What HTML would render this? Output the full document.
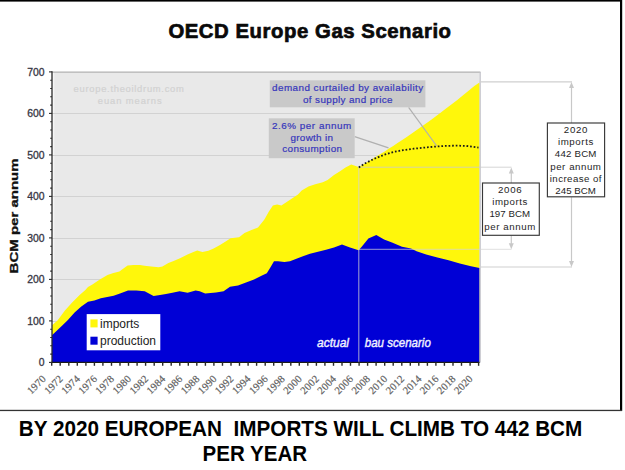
<!DOCTYPE html>
<html><head><meta charset="utf-8"><style>
html,body{margin:0;padding:0;background:#fff;}
body{width:625px;height:470px;overflow:hidden;position:relative;font-family:"Liberation Sans",sans-serif;}
svg{position:absolute;left:0;top:0;}
</style></head><body>
<svg width="625" height="470" viewBox="0 0 625 470" font-family="Liberation Sans, sans-serif" style="white-space:pre">
<rect x="52" y="72" width="428.5" height="290.4" fill="#f6f6f6"/>
<rect x="54.2" y="72" width="426.3" height="290.4" fill="#e9e9e9"/>
<line x1="52" y1="321.5" x2="479.5" y2="321.5" stroke="#d2d2d2" stroke-width="1"/>
<line x1="52" y1="279.5" x2="479.5" y2="279.5" stroke="#d2d2d2" stroke-width="1"/>
<line x1="52" y1="238.5" x2="479.5" y2="238.5" stroke="#d2d2d2" stroke-width="1"/>
<line x1="52" y1="196.5" x2="479.5" y2="196.5" stroke="#d2d2d2" stroke-width="1"/>
<line x1="52" y1="155.5" x2="479.5" y2="155.5" stroke="#d2d2d2" stroke-width="1"/>
<line x1="52" y1="113.5" x2="479.5" y2="113.5" stroke="#d2d2d2" stroke-width="1"/>
<text x="73.6" y="91.6" font-size="9.4" fill="#d0d0d0" text-anchor="start" textLength="110.2" lengthAdjust="spacing" stroke="#d4d4d4" stroke-width="0.2">europe.theoildrum.com</text>
<text x="97.8" y="103.6" font-size="9.4" fill="#d0d0d0" text-anchor="start" textLength="63.8" lengthAdjust="spacing" stroke="#d4d4d4" stroke-width="0.2">euan mearns</text>
<path d="M52.0,362.4 L52.0,325.2 L57.5,320.6 L64.9,310.4 L72.4,302.2 L79.9,294.7 L85.1,290.2 L88.0,286.9 L92.4,284.6 L99.8,279.4 L107.5,275.1 L113.4,272.9 L119.4,271.6 L122.4,269.2 L127.6,265.4 L133.6,265.1 L140.0,265.1 L144.5,265.7 L151.2,266.5 L158.7,267.2 L162.4,266.5 L168.4,263.1 L173.6,260.9 L180.0,258.2 L187.5,254.5 L193.4,251.9 L197.2,250.4 L202.4,251.9 L208.4,250.7 L213.6,248.5 L220.0,245.0 L226.4,241.0 L230.6,238.3 L239.1,237.2 L244.5,233.0 L250.9,230.3 L256.2,228.2 L258.0,227.5 L264.4,219.4 L268.6,211.9 L272.9,205.5 L277.1,204.5 L281.4,205.5 L287.8,201.3 L294.2,197.0 L298.0,194.4 L301.7,190.4 L308.5,186.6 L315.2,184.2 L322.8,182.3 L327.6,179.9 L334.0,174.9 L340.4,171.0 L345.5,167.4 L351.2,164.6 L358.6,167.0 L363.3,164.5 L367.6,161.9 L371.9,159.3 L376.1,156.7 L380.4,154.1 L384.7,151.4 L389.0,148.6 L393.2,145.9 L397.5,143.1 L401.8,140.2 L406.0,137.4 L410.3,134.5 L414.6,131.5 L418.8,128.5 L423.1,125.5 L427.4,122.5 L431.6,119.4 L435.9,116.2 L440.2,113.0 L444.4,109.8 L448.7,106.6 L453.0,103.3 L457.3,99.9 L461.5,96.5 L465.8,93.1 L470.1,89.6 L474.3,86.1 L479.5,82.5 L479.5,362.4 Z" fill="#fff70b"/>
<path d="M52.0,362.4 L52.0,335.3 L57.5,330.0 L62.8,325.0 L67.9,320.0 L74.6,312.6 L81.3,306.6 L88.0,301.8 L94.4,300.5 L100.8,298.3 L107.2,297.0 L113.6,295.7 L120.0,293.5 L128.0,290.4 L136.3,290.6 L144.7,291.2 L153.6,296.0 L160.0,295.1 L166.0,294.0 L172.4,292.8 L179.6,291.2 L187.6,292.8 L195.6,290.4 L199.6,291.2 L205.2,293.6 L216.0,292.4 L223.6,291.2 L230.0,286.8 L238.0,285.6 L246.0,282.4 L254.0,279.6 L262.0,275.6 L266.8,273.2 L270.8,266.8 L274.0,261.2 L278.0,261.2 L284.4,262.0 L290.0,261.2 L296.4,258.8 L303.6,256.0 L310.0,253.8 L318.0,251.8 L326.0,249.8 L334.0,247.4 L342.0,244.6 L350.0,247.4 L358.6,250.2 L361.7,246.8 L368.4,238.4 L376.3,234.9 L384.1,239.6 L392.0,242.4 L402.0,246.8 L411.0,248.5 L416.6,251.3 L426.2,254.6 L437.4,257.4 L448.6,260.2 L459.8,263.5 L471.0,266.3 L479.5,268.0 L479.5,362.4 Z" fill="#0000d6"/>
<line x1="52" y1="72.1" x2="480.5" y2="72.1" stroke="#b2b2b2" stroke-width="1.4"/>
<line x1="480.2" y1="72" x2="480.2" y2="362.4" stroke="#c4c4cc" stroke-width="1.2"/>
<line x1="358.8" y1="167" x2="358.8" y2="362.4" stroke="#d4d4d4" stroke-opacity="0.72" stroke-width="1.1"/>
<line x1="358.8" y1="167.2" x2="511.5" y2="167.2" stroke="#cccccc" stroke-opacity="0.8" stroke-width="1"/>
<line x1="358.8" y1="249.3" x2="511.5" y2="249.3" stroke="#d4d4d4" stroke-opacity="0.72" stroke-width="1"/>
<line x1="479.5" y1="81.8" x2="572" y2="81.8" stroke="#cfcfcf" stroke-width="1.2"/>
<line x1="479.5" y1="267" x2="572" y2="267" stroke="#cfcfcf" stroke-width="1.2"/>
<path d="M358.8,167.4 L364.6,163.6 L374.2,158.8 L383.8,154.9 L393.5,152.0 L403.1,150.1 L413.7,148.7 L430.6,147.0 L443.4,146.0 L456.2,145.6 L466.5,146.0 L478.5,147.6" fill="none" stroke="#1a1a1a" stroke-width="1.8" stroke-dasharray="1.7,1.9"/>
<line x1="52" y1="71.2" x2="52" y2="363.0" stroke="#2a2a2a" stroke-width="1.3"/>
<line x1="51.4" y1="362.4" x2="479.5" y2="362.4" stroke="#1a1a1a" stroke-width="1.2"/>
<line x1="49" y1="362.4" x2="52" y2="362.4" stroke="#2a2a2a" stroke-width="1.1"/>
<line x1="50.2" y1="354.1" x2="52" y2="354.1" stroke="#2a2a2a" stroke-width="1.1"/>
<line x1="50.2" y1="345.8" x2="52" y2="345.8" stroke="#2a2a2a" stroke-width="1.1"/>
<line x1="50.2" y1="337.5" x2="52" y2="337.5" stroke="#2a2a2a" stroke-width="1.1"/>
<line x1="50.2" y1="329.2" x2="52" y2="329.2" stroke="#2a2a2a" stroke-width="1.1"/>
<line x1="49" y1="320.9" x2="52" y2="320.9" stroke="#2a2a2a" stroke-width="1.1"/>
<line x1="50.2" y1="312.6" x2="52" y2="312.6" stroke="#2a2a2a" stroke-width="1.1"/>
<line x1="50.2" y1="304.3" x2="52" y2="304.3" stroke="#2a2a2a" stroke-width="1.1"/>
<line x1="50.2" y1="296.0" x2="52" y2="296.0" stroke="#2a2a2a" stroke-width="1.1"/>
<line x1="50.2" y1="287.7" x2="52" y2="287.7" stroke="#2a2a2a" stroke-width="1.1"/>
<line x1="49" y1="279.4" x2="52" y2="279.4" stroke="#2a2a2a" stroke-width="1.1"/>
<line x1="50.2" y1="271.1" x2="52" y2="271.1" stroke="#2a2a2a" stroke-width="1.1"/>
<line x1="50.2" y1="262.8" x2="52" y2="262.8" stroke="#2a2a2a" stroke-width="1.1"/>
<line x1="50.2" y1="254.5" x2="52" y2="254.5" stroke="#2a2a2a" stroke-width="1.1"/>
<line x1="50.2" y1="246.2" x2="52" y2="246.2" stroke="#2a2a2a" stroke-width="1.1"/>
<line x1="49" y1="237.9" x2="52" y2="237.9" stroke="#2a2a2a" stroke-width="1.1"/>
<line x1="50.2" y1="229.6" x2="52" y2="229.6" stroke="#2a2a2a" stroke-width="1.1"/>
<line x1="50.2" y1="221.3" x2="52" y2="221.3" stroke="#2a2a2a" stroke-width="1.1"/>
<line x1="50.2" y1="213.0" x2="52" y2="213.0" stroke="#2a2a2a" stroke-width="1.1"/>
<line x1="50.2" y1="204.7" x2="52" y2="204.7" stroke="#2a2a2a" stroke-width="1.1"/>
<line x1="49" y1="196.4" x2="52" y2="196.4" stroke="#2a2a2a" stroke-width="1.1"/>
<line x1="50.2" y1="188.1" x2="52" y2="188.1" stroke="#2a2a2a" stroke-width="1.1"/>
<line x1="50.2" y1="179.8" x2="52" y2="179.8" stroke="#2a2a2a" stroke-width="1.1"/>
<line x1="50.2" y1="171.5" x2="52" y2="171.5" stroke="#2a2a2a" stroke-width="1.1"/>
<line x1="50.2" y1="163.2" x2="52" y2="163.2" stroke="#2a2a2a" stroke-width="1.1"/>
<line x1="49" y1="154.9" x2="52" y2="154.9" stroke="#2a2a2a" stroke-width="1.1"/>
<line x1="50.2" y1="146.6" x2="52" y2="146.6" stroke="#2a2a2a" stroke-width="1.1"/>
<line x1="50.2" y1="138.3" x2="52" y2="138.3" stroke="#2a2a2a" stroke-width="1.1"/>
<line x1="50.2" y1="130.0" x2="52" y2="130.0" stroke="#2a2a2a" stroke-width="1.1"/>
<line x1="50.2" y1="121.7" x2="52" y2="121.7" stroke="#2a2a2a" stroke-width="1.1"/>
<line x1="49" y1="113.4" x2="52" y2="113.4" stroke="#2a2a2a" stroke-width="1.1"/>
<line x1="50.2" y1="105.1" x2="52" y2="105.1" stroke="#2a2a2a" stroke-width="1.1"/>
<line x1="50.2" y1="96.8" x2="52" y2="96.8" stroke="#2a2a2a" stroke-width="1.1"/>
<line x1="50.2" y1="88.5" x2="52" y2="88.5" stroke="#2a2a2a" stroke-width="1.1"/>
<line x1="50.2" y1="80.2" x2="52" y2="80.2" stroke="#2a2a2a" stroke-width="1.1"/>
<line x1="49" y1="71.9" x2="52" y2="71.9" stroke="#2a2a2a" stroke-width="1.1"/>
<line x1="51.7" y1="362.4" x2="51.7" y2="365.79999999999995" stroke="#2a2a2a" stroke-width="1.4"/>
<line x1="60.2" y1="362.4" x2="60.2" y2="365.79999999999995" stroke="#2a2a2a" stroke-width="1.4"/>
<line x1="68.8" y1="362.4" x2="68.8" y2="365.79999999999995" stroke="#2a2a2a" stroke-width="1.4"/>
<line x1="77.3" y1="362.4" x2="77.3" y2="365.79999999999995" stroke="#2a2a2a" stroke-width="1.4"/>
<line x1="85.9" y1="362.4" x2="85.9" y2="365.79999999999995" stroke="#2a2a2a" stroke-width="1.4"/>
<line x1="94.4" y1="362.4" x2="94.4" y2="365.79999999999995" stroke="#2a2a2a" stroke-width="1.4"/>
<line x1="102.9" y1="362.4" x2="102.9" y2="365.79999999999995" stroke="#2a2a2a" stroke-width="1.4"/>
<line x1="111.5" y1="362.4" x2="111.5" y2="365.79999999999995" stroke="#2a2a2a" stroke-width="1.4"/>
<line x1="120.0" y1="362.4" x2="120.0" y2="365.79999999999995" stroke="#2a2a2a" stroke-width="1.4"/>
<line x1="128.5" y1="362.4" x2="128.5" y2="365.79999999999995" stroke="#2a2a2a" stroke-width="1.4"/>
<line x1="137.1" y1="362.4" x2="137.1" y2="365.79999999999995" stroke="#2a2a2a" stroke-width="1.4"/>
<line x1="145.6" y1="362.4" x2="145.6" y2="365.79999999999995" stroke="#2a2a2a" stroke-width="1.4"/>
<line x1="154.2" y1="362.4" x2="154.2" y2="365.79999999999995" stroke="#2a2a2a" stroke-width="1.4"/>
<line x1="162.7" y1="362.4" x2="162.7" y2="365.79999999999995" stroke="#2a2a2a" stroke-width="1.4"/>
<line x1="171.2" y1="362.4" x2="171.2" y2="365.79999999999995" stroke="#2a2a2a" stroke-width="1.4"/>
<line x1="179.8" y1="362.4" x2="179.8" y2="365.79999999999995" stroke="#2a2a2a" stroke-width="1.4"/>
<line x1="188.3" y1="362.4" x2="188.3" y2="365.79999999999995" stroke="#2a2a2a" stroke-width="1.4"/>
<line x1="196.8" y1="362.4" x2="196.8" y2="365.79999999999995" stroke="#2a2a2a" stroke-width="1.4"/>
<line x1="205.4" y1="362.4" x2="205.4" y2="365.79999999999995" stroke="#2a2a2a" stroke-width="1.4"/>
<line x1="213.9" y1="362.4" x2="213.9" y2="365.79999999999995" stroke="#2a2a2a" stroke-width="1.4"/>
<line x1="222.5" y1="362.4" x2="222.5" y2="365.79999999999995" stroke="#2a2a2a" stroke-width="1.4"/>
<line x1="231.0" y1="362.4" x2="231.0" y2="365.79999999999995" stroke="#2a2a2a" stroke-width="1.4"/>
<line x1="239.5" y1="362.4" x2="239.5" y2="365.79999999999995" stroke="#2a2a2a" stroke-width="1.4"/>
<line x1="248.1" y1="362.4" x2="248.1" y2="365.79999999999995" stroke="#2a2a2a" stroke-width="1.4"/>
<line x1="256.6" y1="362.4" x2="256.6" y2="365.79999999999995" stroke="#2a2a2a" stroke-width="1.4"/>
<line x1="265.2" y1="362.4" x2="265.2" y2="365.79999999999995" stroke="#2a2a2a" stroke-width="1.4"/>
<line x1="273.7" y1="362.4" x2="273.7" y2="365.79999999999995" stroke="#2a2a2a" stroke-width="1.4"/>
<line x1="282.2" y1="362.4" x2="282.2" y2="365.79999999999995" stroke="#2a2a2a" stroke-width="1.4"/>
<line x1="290.8" y1="362.4" x2="290.8" y2="365.79999999999995" stroke="#2a2a2a" stroke-width="1.4"/>
<line x1="299.3" y1="362.4" x2="299.3" y2="365.79999999999995" stroke="#2a2a2a" stroke-width="1.4"/>
<line x1="307.8" y1="362.4" x2="307.8" y2="365.79999999999995" stroke="#2a2a2a" stroke-width="1.4"/>
<line x1="316.4" y1="362.4" x2="316.4" y2="365.79999999999995" stroke="#2a2a2a" stroke-width="1.4"/>
<line x1="324.9" y1="362.4" x2="324.9" y2="365.79999999999995" stroke="#2a2a2a" stroke-width="1.4"/>
<line x1="333.5" y1="362.4" x2="333.5" y2="365.79999999999995" stroke="#2a2a2a" stroke-width="1.4"/>
<line x1="342.0" y1="362.4" x2="342.0" y2="365.79999999999995" stroke="#2a2a2a" stroke-width="1.4"/>
<line x1="350.5" y1="362.4" x2="350.5" y2="365.79999999999995" stroke="#2a2a2a" stroke-width="1.4"/>
<line x1="359.1" y1="362.4" x2="359.1" y2="365.79999999999995" stroke="#2a2a2a" stroke-width="1.4"/>
<line x1="367.6" y1="362.4" x2="367.6" y2="365.79999999999995" stroke="#2a2a2a" stroke-width="1.4"/>
<line x1="376.1" y1="362.4" x2="376.1" y2="365.79999999999995" stroke="#2a2a2a" stroke-width="1.4"/>
<line x1="384.7" y1="362.4" x2="384.7" y2="365.79999999999995" stroke="#2a2a2a" stroke-width="1.4"/>
<line x1="393.2" y1="362.4" x2="393.2" y2="365.79999999999995" stroke="#2a2a2a" stroke-width="1.4"/>
<line x1="401.8" y1="362.4" x2="401.8" y2="365.79999999999995" stroke="#2a2a2a" stroke-width="1.4"/>
<line x1="410.3" y1="362.4" x2="410.3" y2="365.79999999999995" stroke="#2a2a2a" stroke-width="1.4"/>
<line x1="418.8" y1="362.4" x2="418.8" y2="365.79999999999995" stroke="#2a2a2a" stroke-width="1.4"/>
<line x1="427.4" y1="362.4" x2="427.4" y2="365.79999999999995" stroke="#2a2a2a" stroke-width="1.4"/>
<line x1="435.9" y1="362.4" x2="435.9" y2="365.79999999999995" stroke="#2a2a2a" stroke-width="1.4"/>
<line x1="444.4" y1="362.4" x2="444.4" y2="365.79999999999995" stroke="#2a2a2a" stroke-width="1.4"/>
<line x1="453.0" y1="362.4" x2="453.0" y2="365.79999999999995" stroke="#2a2a2a" stroke-width="1.4"/>
<line x1="461.5" y1="362.4" x2="461.5" y2="365.79999999999995" stroke="#2a2a2a" stroke-width="1.4"/>
<line x1="470.1" y1="362.4" x2="470.1" y2="365.79999999999995" stroke="#2a2a2a" stroke-width="1.4"/>
<line x1="478.6" y1="362.4" x2="478.6" y2="365.79999999999995" stroke="#2a2a2a" stroke-width="1.4"/>
<text x="44.6" y="366.2" font-size="10.4" fill="#363644" stroke="#363644" stroke-width="0.3" text-anchor="end">0</text>
<text x="44.6" y="324.7" font-size="10.4" fill="#363644" stroke="#363644" stroke-width="0.3" text-anchor="end">100</text>
<text x="44.6" y="283.2" font-size="10.4" fill="#363644" stroke="#363644" stroke-width="0.3" text-anchor="end">200</text>
<text x="44.6" y="241.7" font-size="10.4" fill="#363644" stroke="#363644" stroke-width="0.3" text-anchor="end">300</text>
<text x="44.6" y="200.2" font-size="10.4" fill="#363644" stroke="#363644" stroke-width="0.3" text-anchor="end">400</text>
<text x="44.6" y="158.7" font-size="10.4" fill="#363644" stroke="#363644" stroke-width="0.3" text-anchor="end">500</text>
<text x="44.6" y="117.2" font-size="10.4" fill="#363644" stroke="#363644" stroke-width="0.3" text-anchor="end">600</text>
<text x="44.6" y="75.7" font-size="10.4" fill="#363644" stroke="#363644" stroke-width="0.3" text-anchor="end">700</text>
<text x="46.5" y="379.5" font-family="Liberation Serif, serif" font-size="10.5" fill="#5c5c5c" stroke="#5c5c5c" stroke-width="0.2" letter-spacing="0.12" text-anchor="end" transform="rotate(-45 46.5 379.5)">1970</text>
<text x="63.6" y="379.5" font-family="Liberation Serif, serif" font-size="10.5" fill="#5c5c5c" stroke="#5c5c5c" stroke-width="0.2" letter-spacing="0.12" text-anchor="end" transform="rotate(-45 63.6 379.5)">1972</text>
<text x="80.7" y="379.5" font-family="Liberation Serif, serif" font-size="10.5" fill="#5c5c5c" stroke="#5c5c5c" stroke-width="0.2" letter-spacing="0.12" text-anchor="end" transform="rotate(-45 80.7 379.5)">1974</text>
<text x="97.7" y="379.5" font-family="Liberation Serif, serif" font-size="10.5" fill="#5c5c5c" stroke="#5c5c5c" stroke-width="0.2" letter-spacing="0.12" text-anchor="end" transform="rotate(-45 97.7 379.5)">1976</text>
<text x="114.8" y="379.5" font-family="Liberation Serif, serif" font-size="10.5" fill="#5c5c5c" stroke="#5c5c5c" stroke-width="0.2" letter-spacing="0.12" text-anchor="end" transform="rotate(-45 114.8 379.5)">1978</text>
<text x="131.9" y="379.5" font-family="Liberation Serif, serif" font-size="10.5" fill="#5c5c5c" stroke="#5c5c5c" stroke-width="0.2" letter-spacing="0.12" text-anchor="end" transform="rotate(-45 131.9 379.5)">1980</text>
<text x="149.0" y="379.5" font-family="Liberation Serif, serif" font-size="10.5" fill="#5c5c5c" stroke="#5c5c5c" stroke-width="0.2" letter-spacing="0.12" text-anchor="end" transform="rotate(-45 149.0 379.5)">1982</text>
<text x="166.0" y="379.5" font-family="Liberation Serif, serif" font-size="10.5" fill="#5c5c5c" stroke="#5c5c5c" stroke-width="0.2" letter-spacing="0.12" text-anchor="end" transform="rotate(-45 166.0 379.5)">1984</text>
<text x="183.1" y="379.5" font-family="Liberation Serif, serif" font-size="10.5" fill="#5c5c5c" stroke="#5c5c5c" stroke-width="0.2" letter-spacing="0.12" text-anchor="end" transform="rotate(-45 183.1 379.5)">1986</text>
<text x="200.2" y="379.5" font-family="Liberation Serif, serif" font-size="10.5" fill="#5c5c5c" stroke="#5c5c5c" stroke-width="0.2" letter-spacing="0.12" text-anchor="end" transform="rotate(-45 200.2 379.5)">1988</text>
<text x="217.3" y="379.5" font-family="Liberation Serif, serif" font-size="10.5" fill="#5c5c5c" stroke="#5c5c5c" stroke-width="0.2" letter-spacing="0.12" text-anchor="end" transform="rotate(-45 217.3 379.5)">1990</text>
<text x="234.3" y="379.5" font-family="Liberation Serif, serif" font-size="10.5" fill="#5c5c5c" stroke="#5c5c5c" stroke-width="0.2" letter-spacing="0.12" text-anchor="end" transform="rotate(-45 234.3 379.5)">1992</text>
<text x="251.4" y="379.5" font-family="Liberation Serif, serif" font-size="10.5" fill="#5c5c5c" stroke="#5c5c5c" stroke-width="0.2" letter-spacing="0.12" text-anchor="end" transform="rotate(-45 251.4 379.5)">1994</text>
<text x="268.5" y="379.5" font-family="Liberation Serif, serif" font-size="10.5" fill="#5c5c5c" stroke="#5c5c5c" stroke-width="0.2" letter-spacing="0.12" text-anchor="end" transform="rotate(-45 268.5 379.5)">1996</text>
<text x="285.6" y="379.5" font-family="Liberation Serif, serif" font-size="10.5" fill="#5c5c5c" stroke="#5c5c5c" stroke-width="0.2" letter-spacing="0.12" text-anchor="end" transform="rotate(-45 285.6 379.5)">1998</text>
<text x="302.6" y="379.5" font-family="Liberation Serif, serif" font-size="10.5" fill="#5c5c5c" stroke="#5c5c5c" stroke-width="0.2" letter-spacing="0.12" text-anchor="end" transform="rotate(-45 302.6 379.5)">2000</text>
<text x="319.7" y="379.5" font-family="Liberation Serif, serif" font-size="10.5" fill="#5c5c5c" stroke="#5c5c5c" stroke-width="0.2" letter-spacing="0.12" text-anchor="end" transform="rotate(-45 319.7 379.5)">2002</text>
<text x="336.8" y="379.5" font-family="Liberation Serif, serif" font-size="10.5" fill="#5c5c5c" stroke="#5c5c5c" stroke-width="0.2" letter-spacing="0.12" text-anchor="end" transform="rotate(-45 336.8 379.5)">2004</text>
<text x="353.9" y="379.5" font-family="Liberation Serif, serif" font-size="10.5" fill="#5c5c5c" stroke="#5c5c5c" stroke-width="0.2" letter-spacing="0.12" text-anchor="end" transform="rotate(-45 353.9 379.5)">2006</text>
<text x="370.9" y="379.5" font-family="Liberation Serif, serif" font-size="10.5" fill="#5c5c5c" stroke="#5c5c5c" stroke-width="0.2" letter-spacing="0.12" text-anchor="end" transform="rotate(-45 370.9 379.5)">2008</text>
<text x="388.0" y="379.5" font-family="Liberation Serif, serif" font-size="10.5" fill="#5c5c5c" stroke="#5c5c5c" stroke-width="0.2" letter-spacing="0.12" text-anchor="end" transform="rotate(-45 388.0 379.5)">2010</text>
<text x="405.1" y="379.5" font-family="Liberation Serif, serif" font-size="10.5" fill="#5c5c5c" stroke="#5c5c5c" stroke-width="0.2" letter-spacing="0.12" text-anchor="end" transform="rotate(-45 405.1 379.5)">2012</text>
<text x="422.2" y="379.5" font-family="Liberation Serif, serif" font-size="10.5" fill="#5c5c5c" stroke="#5c5c5c" stroke-width="0.2" letter-spacing="0.12" text-anchor="end" transform="rotate(-45 422.2 379.5)">2014</text>
<text x="439.2" y="379.5" font-family="Liberation Serif, serif" font-size="10.5" fill="#5c5c5c" stroke="#5c5c5c" stroke-width="0.2" letter-spacing="0.12" text-anchor="end" transform="rotate(-45 439.2 379.5)">2016</text>
<text x="456.3" y="379.5" font-family="Liberation Serif, serif" font-size="10.5" fill="#5c5c5c" stroke="#5c5c5c" stroke-width="0.2" letter-spacing="0.12" text-anchor="end" transform="rotate(-45 456.3 379.5)">2018</text>
<text x="473.4" y="379.5" font-family="Liberation Serif, serif" font-size="10.5" fill="#5c5c5c" stroke="#5c5c5c" stroke-width="0.2" letter-spacing="0.12" text-anchor="end" transform="rotate(-45 473.4 379.5)">2020</text>
<rect x="86.7" y="314.1" width="73.6" height="36.2" fill="#ffffff"/>
<rect x="90.4" y="319.4" width="7.2" height="8" fill="#fff70b"/>
<rect x="90.4" y="336.7" width="7.2" height="8" fill="#0000d6"/>
<text x="100" y="327.8" font-size="12" fill="#222">imports</text>
<text x="100" y="344.6" font-size="12" fill="#222">production</text>
<text x="317.0" y="347.4" font-size="12.2" fill="#f0f0ff" text-anchor="start" textLength="32" lengthAdjust="spacingAndGlyphs" font-style="italic" stroke="#f0f0ff" stroke-width="0.4">actual</text>
<text x="364.8" y="347.4" font-size="12.2" fill="#f0f0ff" text-anchor="start" textLength="66" lengthAdjust="spacingAndGlyphs" font-style="italic" stroke="#f0f0ff" stroke-width="0.4">bau scenario</text>
<line x1="408.6" y1="107.3" x2="436.7" y2="146" stroke="#b0b0b0" stroke-width="1.2"/>
<line x1="354.7" y1="136.6" x2="388.5" y2="147.9" stroke="#b0b0b0" stroke-width="1.2"/>
<rect x="269.8" y="80.3" width="155.6" height="27" fill="#c9c9c9"/>
<text x="272" y="91.4" font-size="9.9" fill="#3636bc" text-anchor="start" textLength="151.2" lengthAdjust="spacing" stroke="#3636bc" stroke-width="0.2">demand curtailed by availability</text>
<text x="303" y="102.7" font-size="9.9" fill="#3636bc" text-anchor="start" textLength="89.6" lengthAdjust="spacing" stroke="#3636bc" stroke-width="0.2">of supply and price</text>
<rect x="268.8" y="118.3" width="85.9" height="39.9" fill="#c9c9c9"/>
<text x="272" y="129" font-size="9.9" fill="#3636bc" text-anchor="start" textLength="79.2" lengthAdjust="spacing" stroke="#3636bc" stroke-width="0.2">2.6% per annum</text>
<text x="290.5" y="140.8" font-size="9.9" fill="#3636bc" text-anchor="start" textLength="42.4" lengthAdjust="spacing" stroke="#3636bc" stroke-width="0.2">growth in</text>
<text x="282.2" y="152.2" font-size="9.9" fill="#3636bc" text-anchor="start" textLength="59.8" lengthAdjust="spacing" stroke="#3636bc" stroke-width="0.2">consumption</text>
<line x1="511.3" y1="170.5" x2="511.3" y2="183" stroke="#c8c8c8" stroke-width="1.2"/>
<path d="M511.3,167.5 L508.8,173.5 L513.8,173.5 Z" fill="#c8c8c8"/>
<line x1="511.3" y1="235.3" x2="511.3" y2="246.3" stroke="#c8c8c8" stroke-width="1.2"/>
<path d="M511.3,249.3 L508.8,243.3 L513.8,243.3 Z" fill="#c8c8c8"/>
<line x1="571.5" y1="85" x2="571.5" y2="123" stroke="#c8c8c8" stroke-width="1.2"/>
<path d="M571.5,82 L569.0,88 L574.0,88 Z" fill="#c8c8c8"/>
<line x1="571.5" y1="197.2" x2="571.5" y2="264" stroke="#c8c8c8" stroke-width="1.2"/>
<path d="M571.5,267 L569.0,261 L574.0,261 Z" fill="#c8c8c8"/>
<rect x="482.5" y="183" width="56.8" height="52.3" fill="#fff" stroke="#383838" stroke-width="1.15"/>
<text x="509.8" y="193.2" font-size="9.7" fill="#1e1e1e" text-anchor="middle" textLength="23.6" lengthAdjust="spacing" >2006</text>
<text x="509.8" y="205.3" font-size="9.7" fill="#1e1e1e" text-anchor="middle" textLength="35" lengthAdjust="spacing" >imports</text>
<text x="509.8" y="217.4" font-size="9.7" fill="#1e1e1e" text-anchor="middle" textLength="40.8" lengthAdjust="spacing" >197 BCM</text>
<text x="509.8" y="229.5" font-size="9.7" fill="#1e1e1e" text-anchor="middle" textLength="51.3" lengthAdjust="spacing" >per annum</text>
<rect x="547.4" y="123" width="57.2" height="73.8" fill="#fff" stroke="#383838" stroke-width="1.15"/>
<text x="575.6" y="133.3" font-size="9.7" fill="#1e1e1e" text-anchor="middle" textLength="23.5" lengthAdjust="spacing" >2020</text>
<text x="575.6" y="145.4" font-size="9.7" fill="#1e1e1e" text-anchor="middle" textLength="35.4" lengthAdjust="spacing" >imports</text>
<text x="575.6" y="157.4" font-size="9.7" fill="#1e1e1e" text-anchor="middle" textLength="41.6" lengthAdjust="spacing" >442 BCM</text>
<text x="575.6" y="169.5" font-size="9.7" fill="#1e1e1e" text-anchor="middle" textLength="50.7" lengthAdjust="spacing" >per annum</text>
<text x="575.6" y="181.5" font-size="9.7" fill="#1e1e1e" text-anchor="middle" textLength="51.6" lengthAdjust="spacing" >increase of</text>
<text x="575.6" y="193.6" font-size="9.7" fill="#1e1e1e" text-anchor="middle" textLength="40.6" lengthAdjust="spacing" >245 BCM</text>
<text x="168.4" y="38.4" font-size="20.3" fill="#0a0a0a" text-anchor="start" textLength="282.6" lengthAdjust="spacing" font-weight="bold" stroke="#0a0a0a" stroke-width="0.7">OECD Europe Gas Scenario</text>
<text x="0" y="0" font-size="11.8" font-weight="bold" fill="#111" stroke="#111" stroke-width="0.3" textLength="115" lengthAdjust="spacingAndGlyphs" transform="translate(17.6 273.4) rotate(-90)">BCM per annum</text>
<text x="18.8" y="436.2" font-size="22.8" fill="#000" text-anchor="start" textLength="563.5" lengthAdjust="spacingAndGlyphs" font-weight="bold">BY 2020 EUROPEAN&#160; IMPORTS WILL CLIMB TO 442 BCM</text>
<text x="202.6" y="461.4" font-size="22.8" fill="#000" text-anchor="start" textLength="104.5" lengthAdjust="spacingAndGlyphs" font-weight="bold">PER YEAR</text>
<rect x="0" y="0" width="622" height="1.6" fill="#000"/>
<rect x="620" y="0" width="2.2" height="411" fill="#000"/>
<rect x="0" y="409.8" width="622" height="1.3" fill="#333"/>
</svg>
</body></html>
